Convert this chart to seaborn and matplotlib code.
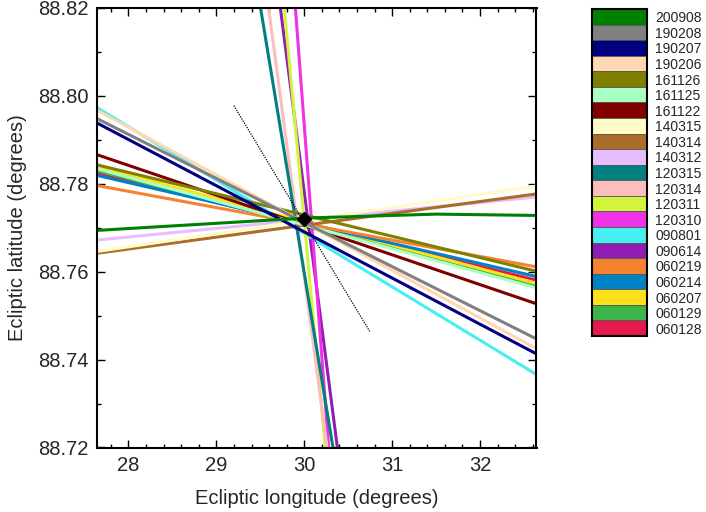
import numpy as np
import pandas as pd
import matplotlib
matplotlib.use("Agg")
import matplotlib.pyplot as plt
import matplotlib.ticker as mticker
import seaborn as sns

# -- Data -----------------------------------------------------------------------
# legend order, top to bottom (drawing order is the reverse)
DATES = ["200908", "190208", "190207", "190206", "161126", "161125", "161122",
         "140315", "140314", "140312", "120315", "120314", "120311", "120310",
         "090801", "090614", "060219", "060214", "060207", "060129", "060128"]
COLOURS = ["#008000", "#808080", "#000080", "#ffd8b1", "#808000", "#aaffc3",
           "#800000", "#fffac8", "#aa6e28", "#e6beff", "#008080", "#fabebe",
           "#d2f53c", "#f032e6", "#46f0f0", "#911eb4", "#f58231", "#0082c8",
           "#ffe119", "#3cb44b", "#e6194b"]

XLIM = (27.645, 32.643)
YLIM = (88.72, 88.82)

# shallow tracks: latitude where they meet the left and right frame
SHALLOW_DATES = ["190208", "190207", "190206", "161126", "161125", "161122",
                 "140315", "140314", "140312", "090801", "060219", "060214",
                 "060207", "060129", "060128"]
SHALLOW_LAT_LEFT = [88.7948, 88.7938, 88.7967, 88.7843, 88.7834, 88.7866,
                    88.7646, 88.7642, 88.7672, 88.7973, 88.7796, 88.7819,
                    88.7839, 88.7830, 88.7823]
SHALLOW_LAT_RIGHT = [88.7447, 88.7413, 88.7425, 88.7601, 88.7563, 88.7527,
                     88.7795, 88.7777, 88.7770, 88.7366, 88.7611, 88.7589,
                     88.7573, 88.7568, 88.7581]

# steep tracks: longitude where they meet the top and bottom frame
STEEP_DATES = ["120315", "120314", "090614", "120311", "120310"]
STEEP_LON_TOP = [29.503, 29.594, 29.728, 29.773, 29.899]
STEEP_LON_BOTTOM = [30.327, 30.260, 30.377, 30.240, 30.278]

# 200908 bends a little
GREEN_LON = [27.645, 30.0, 31.5, 32.643]
GREEN_LAT = [88.7694, 88.7722, 88.7731, 88.7728]

DOTTED_LON = [29.199, 30.745]
DOTTED_LAT = [88.7978, 88.7464]

CENTRE_LON = [30.0]
CENTRE_LAT = [88.772]

# -- Style ----------------------------------------------------------------------
sns.set_style("ticks", {"xtick.direction": "in", "ytick.direction": "in"})
plt.rcParams["font.family"] = ["Liberation Sans", "DejaVu Sans"]
palette = dict(zip(DATES, COLOURS))

# -- Build long table -----------------------------------------------------------
rows = []
for d, l0, l1 in zip(SHALLOW_DATES, SHALLOW_LAT_LEFT, SHALLOW_LAT_RIGHT):
    rows += [(d, XLIM[0], l0), (d, XLIM[1], l1)]
for d, x0, x1 in zip(STEEP_DATES, STEEP_LON_TOP, STEEP_LON_BOTTOM):
    rows += [(d, x0, YLIM[1]), (d, x1, YLIM[0])]
for x, y in zip(GREEN_LON, GREEN_LAT):
    rows.append(("200908", x, y))
tracks = pd.DataFrame(rows, columns=["date", "lon", "lat"])

# -- Plot -----------------------------------------------------------------------
fig = plt.figure(figsize=(7.06, 5.12), dpi=100)
ax = fig.add_axes([97.3 / 706, 1 - 447.5 / 512, 439.2 / 706, 439.5 / 512])

sns.lineplot(data=tracks, x="lon", y="lat", hue="date",
             hue_order=DATES[::-1], palette=palette, sort=False,
             estimator=None, lw=2.2, legend=False, ax=ax)
ax.plot(DOTTED_LON, DOTTED_LAT, color="black", lw=0.9, ls=(0, (1, 1)))
ax.plot(CENTRE_LON, CENTRE_LAT, marker="D", ms=7, color="black", zorder=5)

ax.set_xlim(*XLIM)
ax.set_ylim(*YLIM)
ax.xaxis.set_major_locator(mticker.MultipleLocator(1))
ax.xaxis.set_minor_locator(mticker.MultipleLocator(0.2))
ax.yaxis.set_major_locator(mticker.MultipleLocator(0.02))
ax.yaxis.set_minor_locator(mticker.MultipleLocator(0.01))
ax.yaxis.set_major_formatter(mticker.FormatStrFormatter("%.2f"))
ax.tick_params(which="both", direction="in", top=True, right=True,
               labelsize=14.5, width=1, color="black")
ax.tick_params(which="major", length=5.5, pad=6)
ax.tick_params(which="minor", length=3)
for s in ax.spines.values():
    s.set_linewidth(1.5)
    s.set_color("black")
ax.set_xlabel("Ecliptic longitude (degrees)", fontsize=14.5, labelpad=10)
ax.set_ylabel("Ecliptic latitude (degrees)", fontsize=14.5, labelpad=8)

# colour-key column
lax = fig.add_axes([592 / 706, 1 - 336 / 512, 55 / 706, 327 / 512])
pos = np.arange(len(DATES))
lax.barh(pos, 1, height=1, color=COLOURS, edgecolor="#555555", lw=0.6)
lax.set_xlim(0, 1)
lax.set_ylim(len(DATES) - 0.5, -0.5)
lax.set_xticks([])
lax.yaxis.tick_right()
lax.set_yticks(pos)
lax.set_yticklabels(DATES, fontsize=10)
lax.tick_params(axis="y", length=0, pad=6)
for s in lax.spines.values():
    s.set_visible(True)
    s.set_linewidth(1.5)
    s.set_color("black")

fig.savefig("out.png", dpi=100)
